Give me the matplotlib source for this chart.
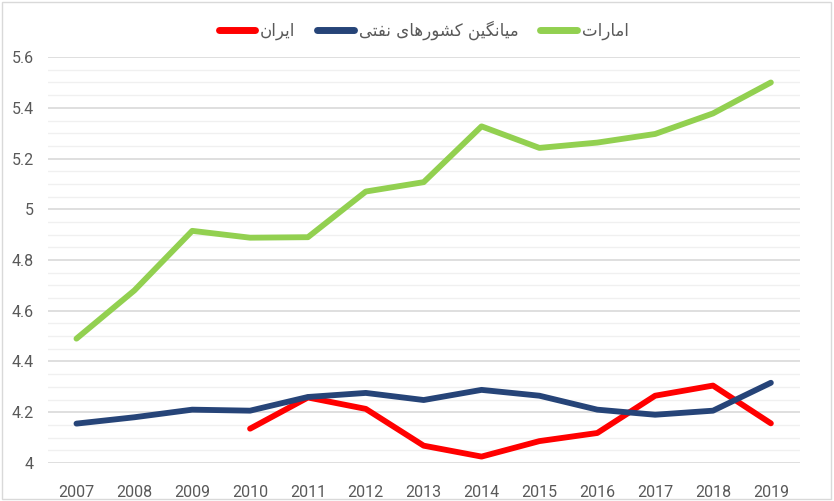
import matplotlib.pyplot as plt
import matplotlib as mpl
from matplotlib.ticker import MultipleLocator
from matplotlib.patches import Rectangle

mpl.rcParams["font.family"] = ["Roboto", "DejaVu Sans"]

years = ["2007", "2008", "2009", "2010", "2011", "2012", "2013",
         "2014", "2015", "2016", "2017", "2018", "2019"]
emarat = [4.49, 4.68, 4.915, 4.888, 4.89, 5.07, 5.107,
          5.327, 5.242, 5.263, 5.297, 5.378, 5.5]
oil_avg = [4.155, 4.18, 4.21, 4.206, 4.26, 4.276, 4.248,
           4.288, 4.265, 4.21, 4.19, 4.206, 4.316]
iran = [None, None, None, 4.135, 4.258, 4.213, 4.068,
        4.025, 4.086, 4.118, 4.265, 4.305, 4.156]

label_iran = "ایران"
label_avg = "میانگین کشورهای نفتی"
label_emarat = "امارات"

# simple persian shaping (matplotlib has no bidi/shaping)
forms = {
    "ا": ("\uFE8D", "\uFE8E", None, None),
    "ر": ("\uFEAD", "\uFEAE", None, None),
    "و": ("\uFEED", "\uFEEE", None, None),
    "ن": ("\uFEE5", "\uFEE6", "\uFEE7", "\uFEE8"),
    "م": ("\uFEE1", "\uFEE2", "\uFEE3", "\uFEE4"),
    "ش": ("\uFEB5", "\uFEB6", "\uFEB7", "\uFEB8"),
    "ه": ("\uFEE9", "\uFEEA", "\uFEEB", "\uFEEC"),
    "ف": ("\uFED1", "\uFED2", "\uFED3", "\uFED4"),
    "ت": ("\uFE95", "\uFE96", "\uFE97", "\uFE98"),
    "ی": ("\uFBFC", "\uFBFD", "\uFBFE", "\uFBFF"),
    "گ": ("\uFB92", "\uFB93", "\uFB94", "\uFB95"),
    "ک": ("\uFB8E", "\uFB8F", "\uFB90", "\uFB91"),
}


def shape(text):
    out = []
    for i, ch in enumerate(text):
        if ch not in forms:
            out.append(ch)
            continue
        prev = text[i - 1] if i > 0 else " "
        nxt = text[i + 1] if i + 1 < len(text) else " "
        join_prev = prev in forms and forms[prev][2] is not None
        join_next = nxt in forms and forms[ch][2] is not None
        iso, fin, ini, med = forms[ch]
        if join_prev and join_next:
            out.append(med)
        elif join_prev:
            out.append(fin)
        elif join_next:
            out.append(ini)
        else:
            out.append(iso)
    return "".join(out)[::-1]


fig = plt.figure(figsize=(8.34, 5.01), dpi=100)
fig.patches.append(Rectangle((0.002, 0.003), 0.995, 0.993, transform=fig.transFigure,
                             fill=False, edgecolor="#d9d9d9", linewidth=1))
ax = fig.add_axes([0.057, 0.076, 0.902, 0.81])

x = list(range(len(years)))
ax.plot(x, iran, color="#ff0000", lw=4.2, solid_capstyle="round", label=shape(label_iran))
ax.plot(x, oil_avg, color="#264478", lw=4.2, solid_capstyle="round", label=shape(label_avg))
ax.plot(x, emarat, color="#92d050", lw=4.2, solid_capstyle="round", label=shape(label_emarat))

ax.set_xlim(-0.5, len(years) - 0.5)
ax.set_ylim(4, 5.6)
ax.set_xticks(x)
ax.set_xticklabels(years)
ax.yaxis.set_minor_locator(MultipleLocator(0.05))
ax.set_yticks([4, 4.2, 4.4, 4.6, 4.8, 5, 5.2, 5.4, 5.6])
ax.set_yticklabels(["4", "4.2", "4.4", "4.6", "4.8", "5", "5.2", "5.4", "5.6"])
ax.grid(which="major", axis="y", color="#d9d9d9", lw=1.2)
ax.grid(which="minor", axis="y", color="#f0f0f0", lw=1)
ax.set_axisbelow(True)
for s in ax.spines.values():
    s.set_visible(False)
ax.tick_params(which="both", length=0, labelsize=11.5, labelcolor="#595959")
ax.tick_params(axis="x", pad=16)
ax.tick_params(axis="y", pad=10)

leg = ax.legend(loc="center", bbox_to_anchor=(0.5, 1.067), ncol=3, frameon=False,
                fontsize=12, handlelength=2.2, columnspacing=1.3, handletextpad=0.3)
for t in leg.get_texts():
    t.set_color("#595959")
    t.set_family(["DejaVu Sans"])
for h in leg.get_lines():
    h.set_linewidth(5)

fig.savefig("out.png", dpi=100)
